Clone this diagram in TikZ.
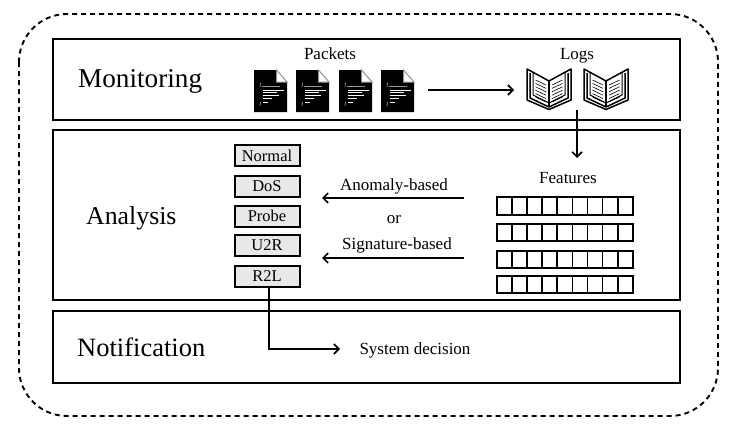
\documentclass[tikz,border=0pt]{standalone}
\usepackage{fontspec}
\setmainfont{Liberation Serif}
\usetikzlibrary{arrows.meta,positioning,calc}
\definecolor{tagfill}{RGB}{232,232,232}
\definecolor{foldgray}{RGB}{150,150,150}
\tikzset{
  panel/.style={draw,line width=2pt,minimum width=627pt,inner sep=0pt},
  headline/.style={anchor=base west,inner sep=0pt,font=\fontsize{26.5}{28}\selectfont},
  caption/.style={anchor=base,font=\fontsize{17}{18}\selectfont},
  tagbox/.style={draw,line width=2pt,fill=tagfill,minimum width=65pt,minimum height=21pt,inner sep=0pt,text height=11pt,text depth=0pt,font=\fontsize{16.5}{18}\selectfont},
  iconbox/.style={minimum width=33pt,minimum height=42pt,inner sep=0pt},
  bookbox/.style={minimum width=46pt,minimum height=42pt,inner sep=0pt},
  flow/.style={line width=1.6pt,-{Straight Barb[length=5pt,width=10pt,line width=1.6pt]}},
  packetdoc/.pic={
    \fill[black] (-16.5,-21) -- (6,-21) -- (16.5,-9) -- (16.5,21) -- (-16.5,21) -- cycle;
    \filldraw[fill=white,draw=foldgray,line width=1pt] (6,-21) -- (16.5,-9) -- (6,-9) -- cycle;
    \foreach \yy/\xa/\xb/\c in {-5/-9/9/foldgray,-1/-8/13/white,1.5/-8/6/white,4.5/-8/8/white,7.5/-8/1/white,11/-8/-3/white}{
      \draw[\c,line width=.8pt] (\xa,\yy) -- (\xb,\yy);
    }
    \draw[foldgray,line width=.7pt] (-10,-8) -- (-10.5,-4);
    \draw[foldgray,line width=.7pt] (-10,11) -- (-10.5,15);
  },
  logbook/.pic={
    \filldraw[fill=white,line width=1.5pt,line join=round] (-22,-20) -- (0,-8) -- (22,-20) -- (22,11) -- (0,20.5) -- (-22,11) -- cycle;
    \draw[line width=1.5pt] (-19,-16) -- (-19,9) -- (0,18) -- (19,9) -- (19,-16);
    \draw[line width=1pt] (-16,-17) -- (-16,6) -- (0,14) -- (16,6) -- (16,-17);
    \draw[line width=1.2pt] (0,-8) -- (0,18);
    \foreach \k in {0,...,5}{
      \draw[line width=.6pt] (-13.5,-9+\k*3.4) -- (-3,-4+\k*3.4);
      \draw[line width=.6pt] (13.5,-9+\k*3.4) -- (3,-4+\k*3.4);
    }
  },
}
\begin{document}
\begin{tikzpicture}[x=1pt,y=-1pt]
  \useasboundingbox (0,0) rectangle (741,436);
  % outer frame
  \draw[line width=1.9pt,dash pattern=on 5pt off 4pt,rounded corners=48pt] (19,14) rectangle (718,416);
  % panels
  \node[panel,minimum height=81pt] (monitoring) at (366.5,79.5) {};
  \node[panel,minimum height=170pt] (analysis) at (366.5,215) {};
  \node[panel,minimum height=72pt] (notification) at (366.5,347) {};
  \node[headline,font=\fontsize{27.2}{28}\selectfont] (monitoringlabel) at (78,87) {Monitoring};
  \node[headline,font=\fontsize{25.8}{28}\selectfont] (analysislabel) at (86,224) {Analysis};
  \node[headline] (notificationlabel) at (77,356) {Notification};
  % packets and logs
  \node[caption] (packets) at (330,59.5) {Packets};
  \node[caption] (logs) at (577,59.5) {Logs};
  \foreach \n/\x in {packa/270.5,packb/312.5,packc/355.5,packd/397.5}{
    \node[iconbox] (\n) at (\x,91) {};
    \pic at (\n) {packetdoc};
  }
  \foreach \n/\x in {loga/549,logb/606}{
    \node[bookbox] (\n) at (\x,89) {};
    \pic at (\n) {logbook};
  }
  \coordinate (packetsout) at (428,90);
  \coordinate (logsin) at (514,90);
  \coordinate (logsout) at (577,110);
  \coordinate (featuresin) at (577,158);
  \draw[flow] (packetsout) -- (logsin);
  \draw[flow] (logsout) -- (featuresin);
  % classes
  \foreach \n/\t/\y in {normal/Normal/155.5,dos/DoS/186,probe/Probe/216,utwor/U2R/245,rtwol/R2L/276}{
    \node[tagbox] (\n) at (267,\y) {\t};
  }
  % features
  \node[caption] (features) at (568,183) {Features};
  \foreach \n/\y in {rowa/206,rowb/232.5,rowc/259.5,rowd/284.5}{
    \node[minimum width=136pt,minimum height=17pt,inner sep=0pt] (\n) at (565,\y) {};
    \foreach \i in {0,...,8}{
      \draw[line width=1.7pt] ($(\n.north west)+(\i*15.11,0)$) rectangle ($(\n.south west)+(\i*15.11+15.11,0)$);
    }
  }
  \node[caption] (anomaly) at (394,190) {Anomaly-based};
  \node[caption] (ortext) at (394,223) {or};
  \node[caption] (signature) at (397,249) {Signature-based};
  \coordinate (anomalyout) at (464,198);
  \coordinate (anomalyin) at (322,198);
  \coordinate (signatureout) at (464,258);
  \coordinate (signaturein) at (322,258);
  \draw[flow] (anomalyout) -- (anomalyin);
  \draw[flow] (signatureout) -- (signaturein);
  % decision
  \node[caption] (decision) at (415,354) {System decision};
  \coordinate (decisionin) at (340,349);
  \draw[flow] ([xshift=2pt]rtwol.south) |- (decisionin);
\end{tikzpicture}
\end{document}
